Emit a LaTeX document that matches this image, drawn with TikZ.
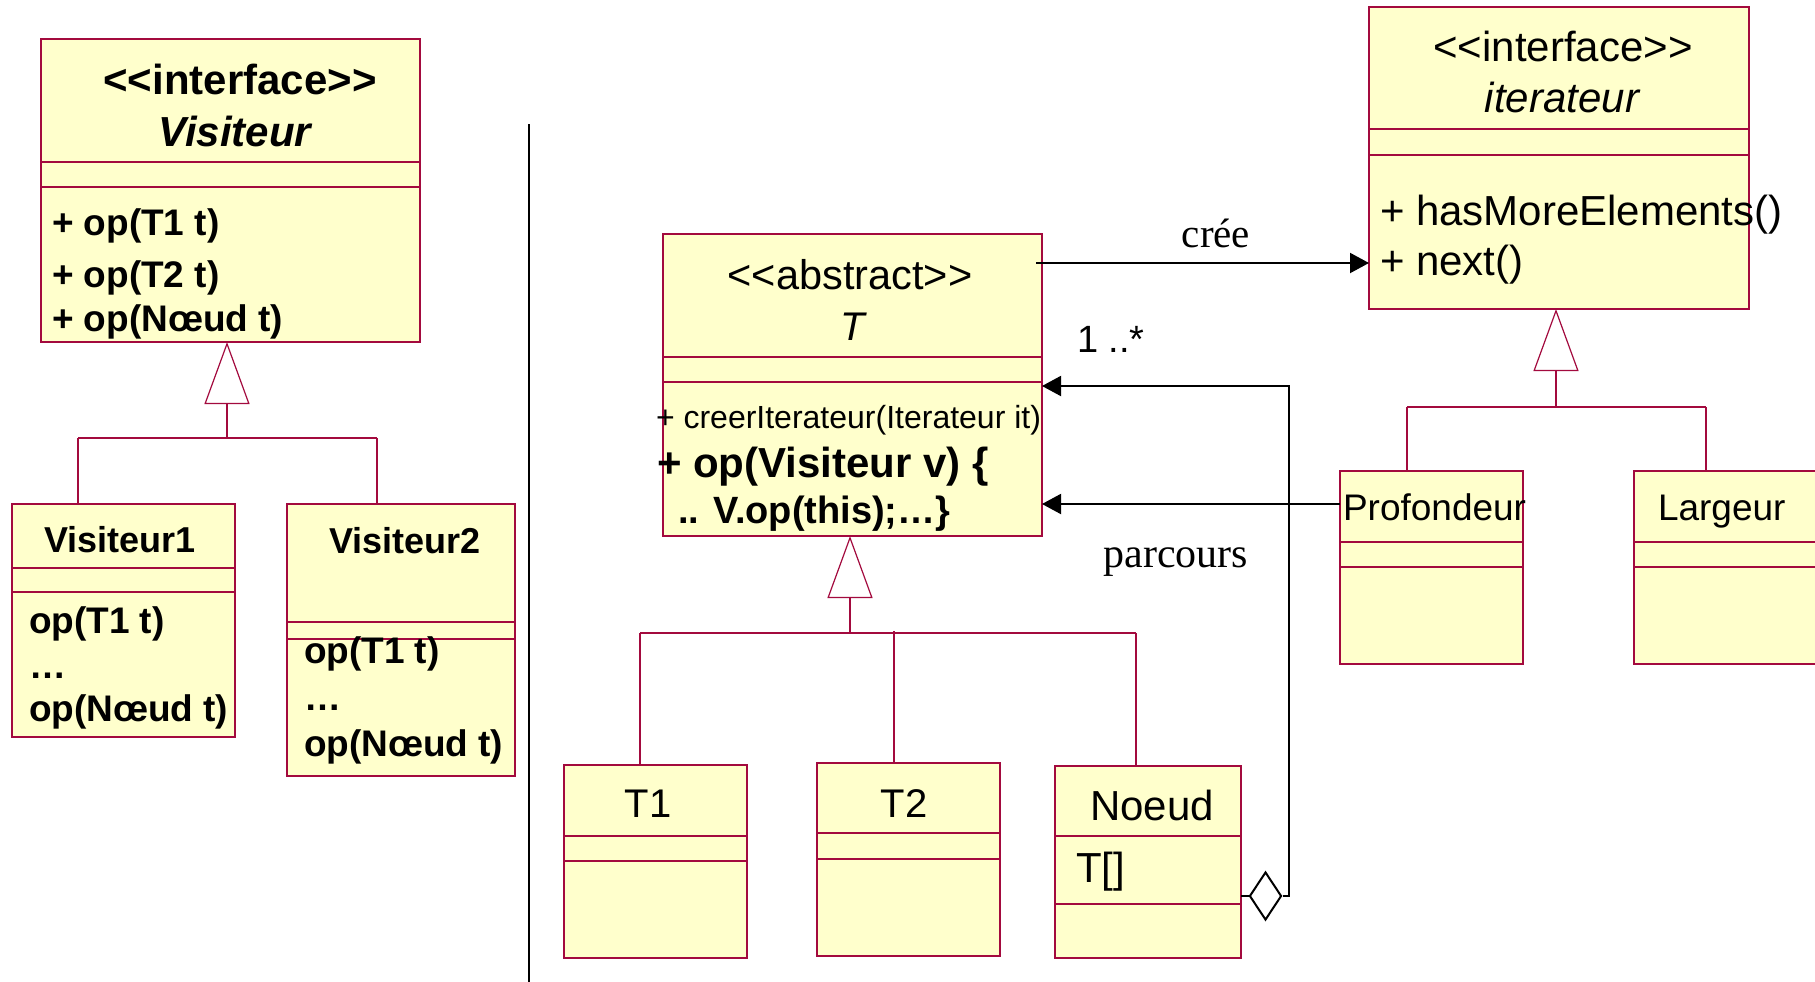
\documentclass[tikz,border=0pt]{standalone}
\usepackage{fontspec}
\setmainfont{Liberation Sans}[Ligatures=TeXOff]
\newfontfamily\seriffont{Liberation Serif}[Ligatures=TeXOff]
\usetikzlibrary{arrows.meta,shapes.geometric}
\definecolor{clsfill}{HTML}{FFFFCC}
\definecolor{clsline}{HTML}{A30A3E}
\newcommand\fsz[1]{\fontsize{#1}{#1}\selectfont}
\tikzset{
  cls/.style={draw=clsline, fill=clsfill, line width=1.4pt, rectangle, inner sep=0pt, outer sep=0pt, anchor=north west},
  comp/.style={draw=clsline, line width=1.1pt},
  gen/.style={draw=clsline, line width=1.2pt},
  genhead/.style={gen, -{Triangle[length=62pt,width=45pt,fill=white,line width=1.2pt]}},
  assoc/.style={draw=black, line width=2pt, -{Triangle[length=19pt,width=20pt]}},
  plain/.style={draw=black, line width=2pt},
  txt/.style={inner sep=0pt, outer sep=0pt, anchor=base west},
  ctxt/.style={inner sep=0pt, outer sep=0pt, anchor=base},
}
\begin{document}
\begin{tikzpicture}[x=1pt,y=-1pt]
\clip (0,0) rectangle (1815,982);
\useasboundingbox (0,0) rectangle (1815,982);

% ---------- Visiteur ----------
\node[cls, minimum width=379pt, minimum height=303pt] (V) at (41,39) {};
\draw[comp] (41,162) -- (420,162);
\draw[comp] (41,187) -- (420,187);
\node[ctxt, font=\fsz{42}\bfseries] (Vst) at (240,94) {<<interface>>};
\node[ctxt, font=\fsz{42}\bfseries\itshape] (Vnm) at (235,146) {Visiteur};
\node[txt, font=\fsz{37}\bfseries] (Vo1) at (52,235) {+ op(T1 t)};
\node[txt, font=\fsz{37}\bfseries] (Vo2) at (52,287) {+ op(T2 t)};
\node[txt, font=\fsz{37}\bfseries] (Vo3) at (52,331) {+ op(Nœud t)};

% ---------- Visiteur1 ----------
\node[cls, minimum width=223pt, minimum height=233pt] (V1) at (12,504) {};
\draw[comp] (12,568) -- (235,568);
\draw[comp] (12,592) -- (235,592);
\node[txt, font=\fsz{36}\bfseries] (V1nm) at (44,552) {Visiteur1};
\node[txt, font=\fsz{37}\bfseries] (V1o1) at (29,633) {op(T1 t)};
\node[txt, font=\fsz{37}\bfseries] (V1o2) at (29,678) {…};
\node[txt, font=\fsz{37}\bfseries] (V1o3) at (29,721) {op(Nœud t)};

% ---------- Visiteur2 ----------
\node[cls, minimum width=228pt, minimum height=272pt] (V2) at (287,504) {};
\draw[comp] (287,622) -- (515,622);
\draw[comp] (287,639) -- (515,639);
\node[txt, font=\fsz{36}\bfseries] (V2nm) at (329,553) {Visiteur2};
\node[txt, font=\fsz{37}\bfseries] (V2o1) at (304,663) {op(T1 t)};
\node[txt, font=\fsz{37}\bfseries] (V2o2) at (304,710) {…};
\node[txt, font=\fsz{37}\bfseries] (V2o3) at (304,756) {op(Nœud t)};

% generalisation Visiteur
\coordinate (Vj) at (227,438);
\coordinate (Vl) at (78,438);
\coordinate (Vr) at (377,438);
\draw[genhead] (Vj) -- (Vj |- V.south);
\draw[gen] (Vl) -- (Vr);
\draw[gen] (Vl) -- (Vl |- V1.north);
\draw[gen] (Vr) -- (Vr |- V2.north);

% separator
\coordinate (sepTop) at (529,124);
\draw[black, line width=2.6pt] (sepTop) -- (529,982);

% ---------- T ----------
\node[cls, minimum width=379pt, minimum height=302pt] (T) at (663,234) {};
\draw[comp] (663,357) -- (1042,357);
\draw[comp] (663,382) -- (1042,382);
\node[ctxt, font=\fsz{41.5}] (Tst) at (850,289) {<<abstract>>};
\node[ctxt, font=\fsz{40}\itshape] (Tnm) at (853,340) {T};
\node[txt, font=\fsz{32}] (To1) at (656,428) {+ creerIterateur(Iterateur it)};
\node[txt, font=\fsz{42}\bfseries] (To2) at (657,477) {+ op(Visiteur v) \{};
\node[txt, font=\fsz{38}\bfseries] (To3) at (678,523) {.. V.op(this);…\}};

% ---------- iterateur ----------
\node[cls, minimum width=380pt, minimum height=302pt] (I) at (1369,7) {};
\draw[comp] (1369,129) -- (1749,129);
\draw[comp] (1369,155) -- (1749,155);
\node[ctxt, font=\fsz{42}] (Ist) at (1563,62) {<<interface>>};
\node[ctxt, font=\fsz{42}\itshape] (Inm) at (1562,112) {iterateur};
\node[txt, font=\fsz{42}] (Io1) at (1380,225) {+ hasMoreElements()};
\node[txt, font=\fsz{42}] (Io2) at (1380,275) {+ next()};

% ---------- T1, T2, Noeud ----------
\node[cls, minimum width=183pt, minimum height=193pt] (T1) at (564,765) {};
\draw[comp] (564,836) -- (747,836);
\draw[comp] (564,861) -- (747,861);
\node[ctxt, font=\fsz{40}] (T1nm) at (648,817) {T1};

\node[cls, minimum width=183pt, minimum height=193pt] (T2) at (817,763) {};
\draw[comp] (817,833) -- (1000,833);
\draw[comp] (817,859) -- (1000,859);
\node[ctxt, font=\fsz{40}] (T2nm) at (904,817) {T2};

\node[cls, minimum width=186pt, minimum height=192pt] (N) at (1055,766) {};
\draw[comp] (1055,836) -- (1241,836);
\draw[comp] (1055,904) -- (1241,904);
\node[ctxt, font=\fsz{42}] (Nnm) at (1152,820) {Noeud};
\node[txt, font=\fsz{42}] (Nat) at (1076,882) {T[]};

% generalisation T
\coordinate (Tj) at (850,633);
\coordinate (Tl) at (640,633);
\coordinate (Tm) at (894,631);
\coordinate (Tr) at (1136,633);
\draw[genhead] (Tj) -- (Tj |- T.south);
\draw[gen] (Tl) -- (Tr);
\draw[gen] (Tl) -- (Tl |- T1.north);
\draw[gen] (Tm) -- (Tm |- T2.north);
\draw[gen] (Tr) -- (Tr |- N.north);

% ---------- Profondeur, Largeur ----------
\node[cls, minimum width=183pt, minimum height=193pt] (P) at (1340,471) {};
\draw[comp] (1340,542) -- (1523,542);
\draw[comp] (1340,567) -- (1523,567);
\node[txt, font=\fsz{37}] (Pnm) at (1343,520) {Profondeur};

\node[cls, minimum width=196pt, minimum height=193pt] (L) at (1634,471) {};
\draw[comp] (1634,542) -- (1830,542);
\draw[comp] (1634,567) -- (1830,567);
\node[txt, font=\fsz{37}] (Lnm) at (1658,520) {Largeur};

% generalisation iterateur
\coordinate (Ij) at (1556,407);
\coordinate (Il) at (1407,407);
\coordinate (Ir) at (1706,407);
\draw[genhead] (Ij) -- (Ij |- I.south);
\draw[gen] (Il) -- (Ir);
\draw[gen] (Il) -- (Il |- P.north);
\draw[gen] (Ir) -- (Ir |- L.north);

% ---------- associations ----------
\coordinate (creeS) at (1036,263);
\draw[assoc] (creeS) -- (creeS -| I.west);
\node[ctxt, font=\seriffont\fsz{41}] (creeL) at (1216,247) {crée};

\coordinate (parY) at (0,504);
\draw[assoc] (P.west |- parY) -- (T.east |- parY);
\node[ctxt, font=\seriffont\fsz{42}] (parL) at (1176,567) {parcours};

\node[diamond, draw=black, fill=white, line width=2pt, minimum width=32pt, minimum height=48pt, inner sep=0pt] (dia) at (1265.5,896) {};
\draw[plain] (N.east |- dia) -- (dia.west);
\coordinate (aggC) at (1289,386);
\draw[assoc] (dia.east) -| (aggC) -- (aggC -| T.east);
\node[txt, font=\fsz{38}] (mult) at (1077,352) {1 ..*};

\end{tikzpicture}
\end{document}
